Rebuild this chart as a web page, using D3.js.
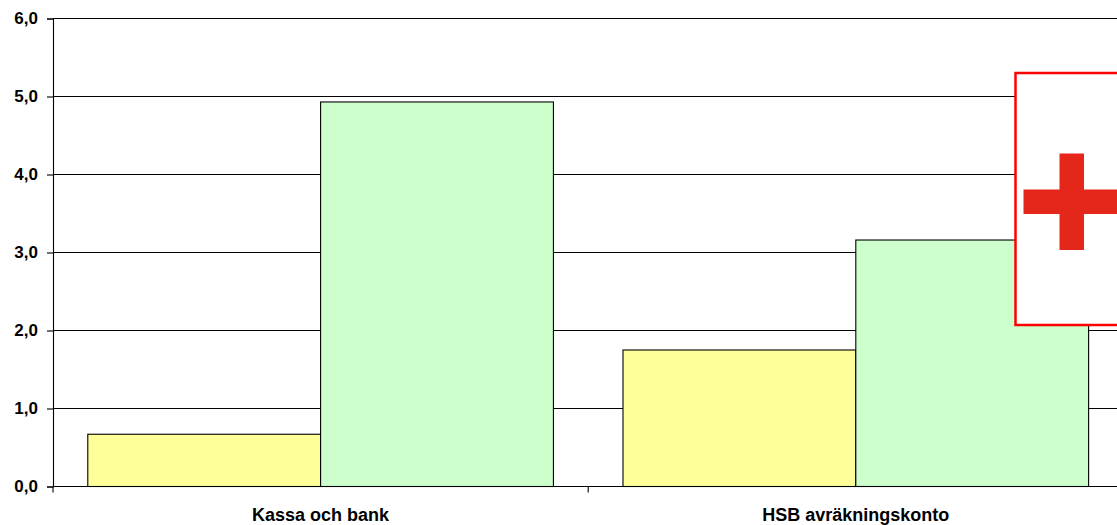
<!DOCTYPE html>
<html>
<head>
<meta charset="utf-8">
<script src="https://cdn.jsdelivr.net/npm/d3@7"></script>
<style>
html, body { margin: 0; padding: 0; background: #fff; overflow: hidden; }
svg { display: block; }
text { font-family: "Liberation Sans", Arial, sans-serif; font-weight: bold; fill: #000; }
</style>
</head>
<body>
<svg></svg>
<script>
var categories = ["Kassa och bank", "HSB avräkningskonto"];
var seriesNames = ["first", "second"];
var firstValues = [0.67, 1.75];
var secondValues = [4.93, 3.16];
var seriesColors = ["#ffff99", "#ccffcc"];
var yTicks = [0, 1, 2, 3, 4, 5, 6];

var svgWidth = 1117, svgHeight = 525;
var plotLeft = 53, plotTop = 18.5, plotBottom = 486.5;
var stepWidth = 535.2;
var lineWidth = 1.1;

var svg = d3.select("svg")
    .attr("width", svgWidth)
    .attr("height", svgHeight);

var yScale = d3.scaleLinear()
    .domain([0, 6])
    .range([plotBottom, plotTop]);

// plot runs past the window, the second category is cut off on the right
var xScale = d3.scaleBand()
    .domain(categories)
    .range([plotLeft, plotLeft + stepWidth * categories.length])
    .paddingInner(0.13)
    .paddingOuter(0.065);

var seriesScale = d3.scaleBand()
    .domain(seriesNames)
    .range([0, xScale.bandwidth()]);

// gridlines
svg.selectAll(".grid")
    .data(yTicks)
    .enter()
    .append("line")
    .attr("class", "grid")
    .attr("x1", plotLeft)
    .attr("x2", svgWidth)
    .attr("y1", function(d){ return yScale(d); })
    .attr("y2", function(d){ return yScale(d); })
    .attr("stroke", "#000")
    .attr("stroke-width", lineWidth);

// bars
var rows = categories.map(function(c, i){
    return [
        {cat: c, series: seriesNames[0], value: firstValues[i], color: seriesColors[0]},
        {cat: c, series: seriesNames[1], value: secondValues[i], color: seriesColors[1]}
    ];
});

svg.selectAll(".bar")
    .data(d3.merge(rows))
    .enter()
    .append("rect")
    .attr("class", "bar")
    .attr("x", function(d){ return xScale(d.cat) + seriesScale(d.series); })
    .attr("y", function(d){ return yScale(d.value); })
    .attr("width", seriesScale.bandwidth())
    .attr("height", function(d){ return yScale(0) - yScale(d.value); })
    .attr("fill", function(d){ return d.color; })
    .attr("stroke", "#000")
    .attr("stroke-width", lineWidth);

// axes
var yAxis = d3.axisLeft(yScale)
    .tickValues(yTicks)
    .tickSize(6)
    .tickPadding(9)
    .tickFormat(function(d){ return d3.format(".1f")(d).replace(".", ","); });

var yG = svg.append("g")
    .attr("transform", "translate(" + plotLeft + ",0)")
    .call(yAxis);
yG.select(".domain").attr("stroke-width", lineWidth);
yG.selectAll("line").attr("stroke-width", lineWidth);
yG.selectAll("text").style("font-size", "17px").attr("dy", "0.3em");

var xG = svg.append("g")
    .attr("transform", "translate(0," + plotBottom + ")")
    .call(d3.axisBottom(xScale).tickSize(0).tickPadding(22));
xG.select(".domain").remove();
xG.selectAll("text").style("font-size", "18px");

// category separator ticks below the axis
svg.selectAll(".sep")
    .data(d3.range(categories.length + 1))
    .enter()
    .append("line")
    .attr("class", "sep")
    .attr("x1", function(d){ return plotLeft + stepWidth * d; })
    .attr("x2", function(d){ return plotLeft + stepWidth * d; })
    .attr("y1", plotBottom)
    .attr("y2", plotBottom + 6)
    .attr("stroke", "#000")
    .attr("stroke-width", lineWidth);

// red cross box on top of the chart
svg.append("rect")
    .attr("x", 1015.5)
    .attr("y", 73)
    .attr("width", 130)
    .attr("height", 252)
    .attr("fill", "#fff")
    .attr("stroke", "#ff0000")
    .attr("stroke-width", 2.5);

svg.append("rect")
    .attr("x", 1059.5).attr("y", 153.5)
    .attr("width", 24.5).attr("height", 96.5)
    .attr("fill", "#e5261a");
svg.append("rect")
    .attr("x", 1023.5).attr("y", 189.5)
    .attr("width", 100).attr("height", 24.5)
    .attr("fill", "#e5261a");
</script>
</body>
</html>
